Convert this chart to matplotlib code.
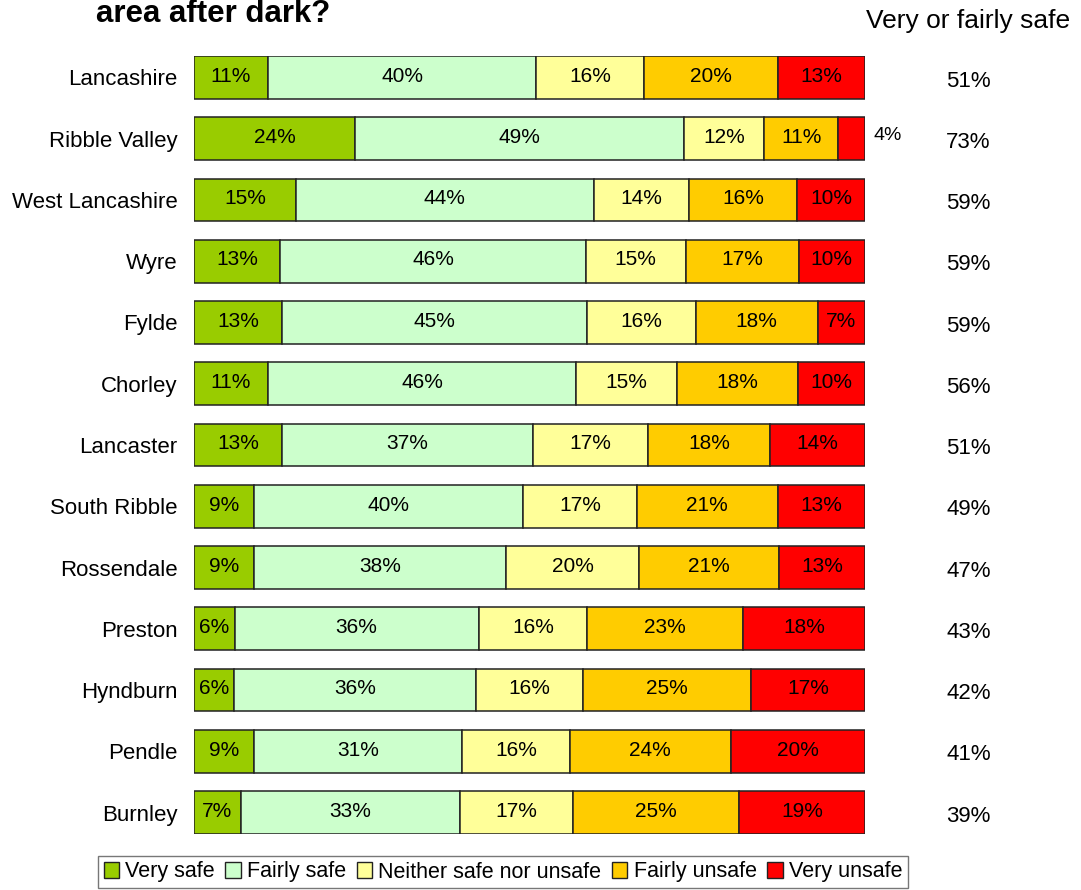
#!/usr/bin/env python3
from matplotlib import pyplot as plt
from matplotlib.patches import Patch
import numpy as np

plt.rcParams['font.family'] = ['Liberation Sans', 'DejaVu Sans']

# survey results, % of respondents per district
districts = ['Lancashire', 'Ribble Valley', 'West Lancashire', 'Wyre', 'Fylde',
             'Chorley', 'Lancaster', 'South Ribble', 'Rossendale', 'Preston',
             'Hyndburn', 'Pendle', 'Burnley']
very_safe     = [11, 24, 15, 13, 13, 11, 13, 9, 9, 6, 6, 9, 7]
fairly_safe   = [40, 49, 44, 46, 45, 46, 37, 40, 38, 36, 36, 31, 33]
neither       = [16, 12, 14, 15, 16, 15, 17, 17, 20, 16, 16, 16, 17]
fairly_unsafe = [20, 11, 16, 17, 18, 18, 18, 21, 21, 23, 25, 24, 25]
very_unsafe   = [13, 4, 10, 10, 7, 10, 14, 13, 13, 18, 17, 20, 19]
very_or_fairly_safe = [51, 73, 59, 59, 59, 56, 51, 49, 47, 43, 42, 41, 39]

categories = ['Very safe', 'Fairly safe', 'Neither safe nor unsafe',
              'Fairly unsafe', 'Very unsafe']
colours = ['#99CC00', '#CCFFCC', '#FFFF99', '#FFCC00', '#FF0000']

series = np.array([very_safe, fairly_safe, neither, fairly_unsafe, very_unsafe], dtype=float)
# bars are drawn to fill 100%, values are rounded so rows don't always sum to 100
widths = series / series.sum(axis=0) * 100

W, H = 1081, 890
fig = plt.figure(figsize=(W / 100, H / 100), dpi=100)
ax = fig.add_axes([194 / W, 1 - 834 / H, 671 / W, 778 / H])

y = np.arange(len(districts))
left = np.zeros(len(districts))
for vals, shown, col in zip(widths, series, colours):
    ax.barh(y, vals, left=left, height=0.7, color=col,
            edgecolor='#222222', linewidth=1.1)
    for yi, (l, w, v) in enumerate(zip(left, vals, shown)):
        if v < 5:
            ax.text(l + w + 1.2, yi - 0.05, f'{v:.0f}%', ha='left', va='center',
                    fontsize=14)
        else:
            ax.text(l + w / 2, yi - 0.02, f'{v:.0f}%', ha='center', va='center',
                    fontsize=15)
    left += vals

# right hand column
for yi, v in enumerate(very_or_fairly_safe):
    ax.text(115.4, yi + 0.06, f'{v}%', ha='center', va='center', fontsize=16,
            clip_on=False)
fig.text(968 / W, 1 - 21 / H, 'Very or fairly safe', ha='center', va='center',
         fontsize=19)

fig.text(96 / W, 1 - 22 / H, 'area after dark?', ha='left', va='baseline',
         fontsize=22.5, fontweight='bold')

ax.set_xlim(0, 100)
ax.set_ylim(len(districts) - 1 + 0.35, -0.35)
ax.set_yticks(y)
ax.set_yticklabels(districts, fontsize=16)
ax.set_xticks([])
ax.tick_params(axis='y', length=0, pad=12)
for s in ax.spines.values():
    s.set_visible(False)

handles = [Patch(facecolor=c, edgecolor='#222222', linewidth=1.0, label=n)
           for c, n in zip(colours, categories)]
leg = fig.legend(handles=handles, loc='center', ncol=5,
                 bbox_to_anchor=(503 / W, 1 - 872 / H), fontsize=15.5,
                 frameon=True, fancybox=False, edgecolor='#555555',
                 handlelength=0.7, handleheight=0.7, handletextpad=0.3,
                 columnspacing=0.5, borderpad=0.25, borderaxespad=0)
leg.get_frame().set_linewidth(1.0)

fig.savefig('out.png', dpi=100)
